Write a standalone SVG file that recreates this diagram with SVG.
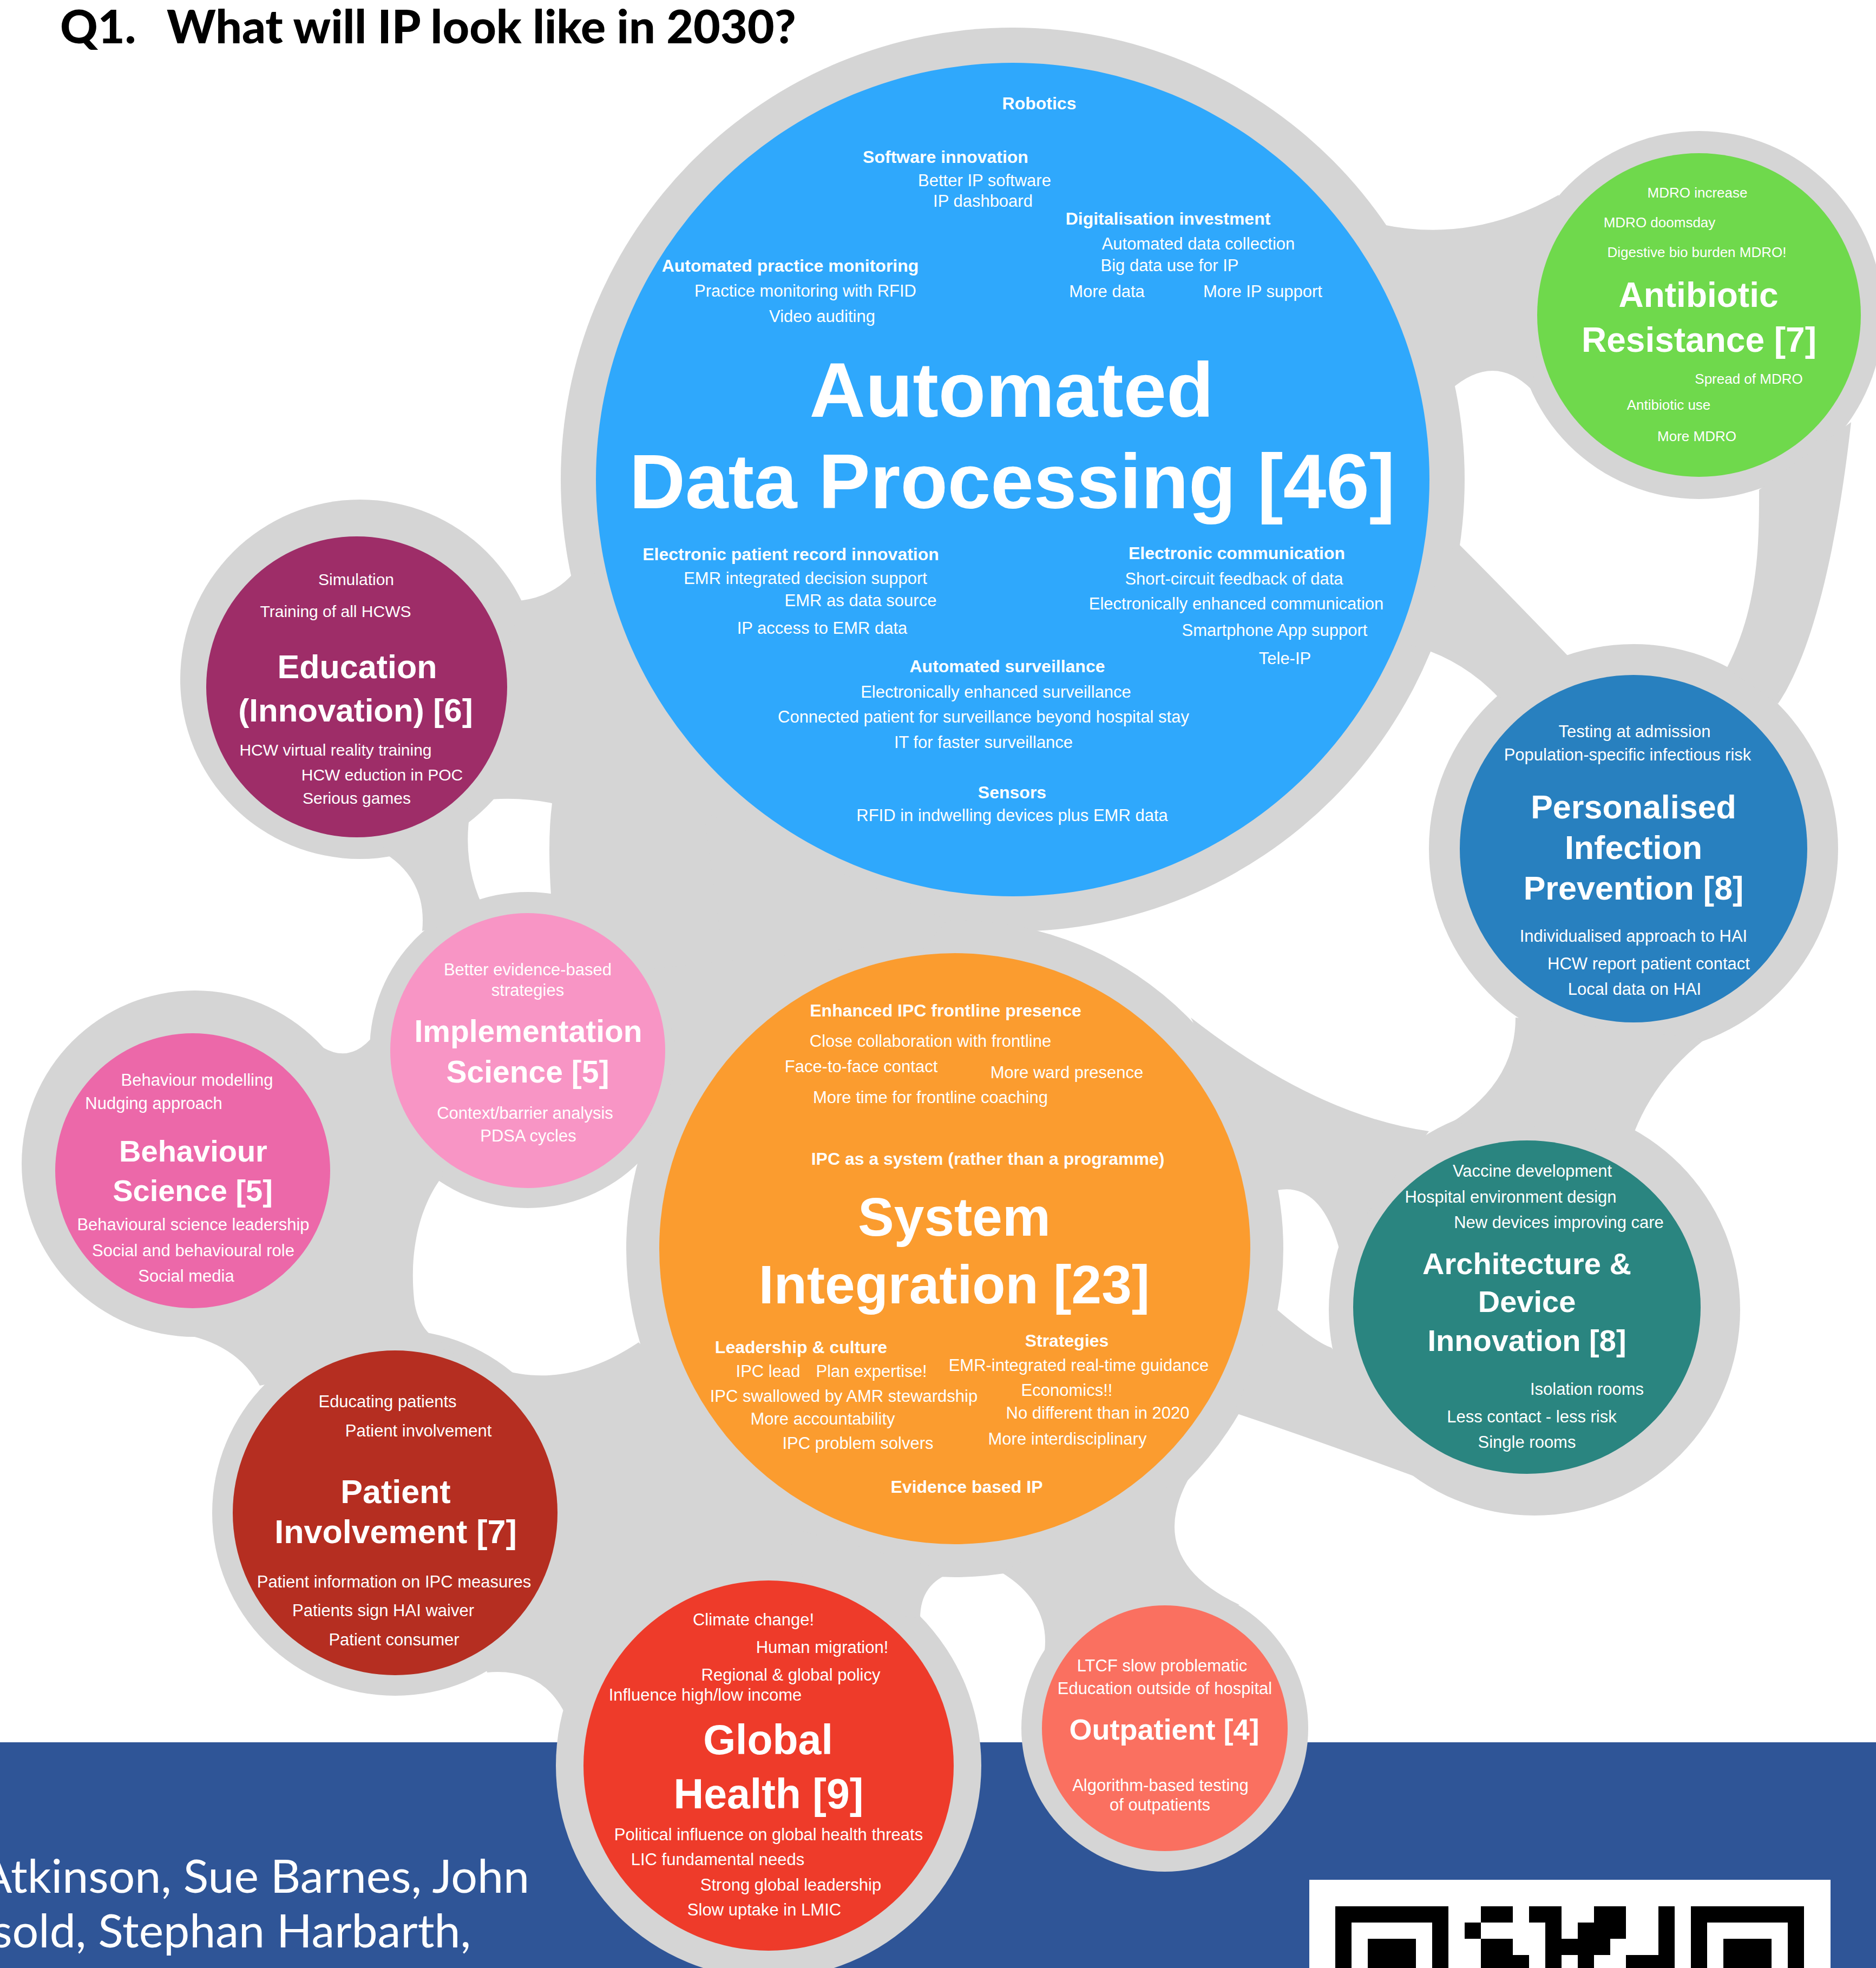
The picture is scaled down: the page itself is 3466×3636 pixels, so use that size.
<svg xmlns="http://www.w3.org/2000/svg" width="3466" height="3636" viewBox="0 0 3466 3636">
<style>
.h{fill:#D5D5D5}
text{font-family:"Liberation Sans",Arial,Helvetica,sans-serif;fill:#fff;text-anchor:middle}
.b{font-weight:700}
.f26{font-size:26px}.f30{font-size:30px}.f31{font-size:31px}.f32{font-size:32px}
.ttl{font-family:Lato,"Liberation Sans",sans-serif;font-weight:900;font-size:86px;fill:#000;text-anchor:start}
.auth{font-family:Lato,"Open Sans",sans-serif;font-size:86px;fill:#fff;text-anchor:end}
</style>
<rect x="0" y="0" width="3466" height="3636" fill="#fff"/>
<rect x="0" y="3219" width="3466" height="417" fill="#2F5597"/>
<g id="blob">
<circle class="h" cx="1871" cy="886" r="835"/>
<circle class="h" cx="3139" cy="582" r="340"/>
<circle class="h" cx="3018" cy="1568" r="378"/>
<circle class="h" cx="665" cy="1255" r="332"/>
<circle class="h" cx="975" cy="1940" r="292"/>
<circle class="h" cx="360" cy="2150" r="320"/>
<circle class="h" cx="1764" cy="2307" r="607"/>
<circle class="h" cx="2835" cy="2420" r="380"/>
<circle class="h" cx="730" cy="2795" r="338"/>
<circle class="h" cx="1420" cy="3262" r="393"/>
<circle class="h" cx="2152" cy="3193" r="265"/>
</g>
<g id="connectors">
<path class="h" d="M2555 415 Q2720 450 2880 360 L2830 720 Q2760 650 2680 720 Z"/>
<path class="h" d="M3250 905 C3250 1000 3250 1120 3190 1235 L3285 1300 C3340 1220 3390 1050 3420 780 Z"/>
<path class="h" d="M2600 1190 Q2700 1215 2770 1290 L2900 1215 Q2780 1090 2690 1000 Z"/>
<path class="h" d="M960 1110 Q1040 1100 1080 1030 L1500 1700 L1600 1760 L1200 1800 L1020 1680 Q1010 1560 1020 1484 Q950 1470 880 1480 Z"/>
<path class="h" d="M1300 1500 L1750 1700 L1700 1760 L1350 1870 Z"/>
<path class="h" d="M1200 1790 L1600 1750 L1400 1960 L1268 2000 L1240 1900 Z"/>
<path class="h" d="M700 1570 Q790 1620 780 1720 L900 1690 Q850 1600 870 1490 Z"/>
<path class="h" d="M560 1905 Q640 1990 700 1900 L820 2170 C780 2220 755 2300 765 2400 C770 2450 800 2480 840 2490 L480 2560 Q430 2470 300 2460 L500 2100 Z"/>
<path class="h" d="M840 2490 C950 2560 1060 2560 1180 2480 L1550 2860 L1400 2960 L1050 3180 Q1010 3080 900 3090 L800 2700 Z"/>
<path class="h" d="M1450 2820 L1760 2905 Q1700 2925 1700 2990 L1500 2960 Z"/>
<path class="h" d="M1850 2905 Q1940 2960 1930 3050 L2290 2965 Q2110 2880 2200 2725 Z"/>
<path class="h" d="M2200 1880 Q2430 2060 2640 2090 L2475 2310 Q2440 2180 2355 2200 Z"/>
<path class="h" d="M2360 2420 Q2430 2480 2460 2490 L2620 2730 Q2430 2660 2280 2610 Z"/>
<path class="h" d="M2800 1880 Q2800 2000 2680 2075 L3020 2090 Q3060 1990 3150 1920 Z"/>
</g>
<g id="n-adp">
<circle cx="1871" cy="886" r="770" fill="#2FA8FC"/>
<text class="b f32" x="1920" y="202">Robotics</text>
<text class="b f32" x="1747" y="301">Software innovation</text>
<text class="f31" x="1819" y="344">Better IP software</text>
<text class="f31" x="1816" y="382">IP dashboard</text>
<text class="b f32" x="2158" y="415">Digitalisation investment</text>
<text class="f31" x="2214" y="461">Automated data collection</text>
<text class="f31" x="2161" y="501">Big data use for IP</text>
<text class="f31" x="2045" y="549">More data</text>
<text class="f31" x="2333" y="549">More IP support</text>
<text class="b f32" x="1460" y="502">Automated practice monitoring</text>
<text class="f31" x="1488" y="548">Practice monitoring with RFID</text>
<text class="f31" x="1519" y="595">Video auditing</text>
<text class="b" x="1869" y="770" font-size="143">Automated</text>
<text class="b" x="1870" y="939" font-size="143">Data Processing [46]</text>
<text class="b f32" x="1461" y="1035">Electronic patient record innovation</text>
<text class="f31" x="1488" y="1079">EMR integrated decision support</text>
<text class="f31" x="1590" y="1120">EMR as data source</text>
<text class="f31" x="1519" y="1171">IP access to EMR data</text>
<text class="b f32" x="2285" y="1033">Electronic communication</text>
<text class="f31" x="2280" y="1080">Short-circuit feedback of data</text>
<text class="f31" x="2284" y="1126">Electronically enhanced communication</text>
<text class="f31" x="2355" y="1175">Smartphone App support</text>
<text class="f31" x="2374" y="1227">Tele-IP</text>
<text class="b f32" x="1861" y="1242">Automated surveillance</text>
<text class="f31" x="1840" y="1289">Electronically enhanced surveillance</text>
<text class="f31" x="1817" y="1335">Connected patient for surveillance beyond hospital stay</text>
<text class="f31" x="1817" y="1382">IT for faster surveillance</text>
<text class="b f32" x="1870" y="1475">Sensors</text>
<text class="f31" x="1870" y="1517">RFID in indwelling devices plus EMR data</text>
</g>
<g id="n-amr">
<circle cx="3139" cy="582" r="299" fill="#6FD94C"/>
<text class="f26" x="3136" y="365">MDRO increase</text>
<text class="f26" x="3066" y="420">MDRO doomsday</text>
<text class="f26" x="3135" y="475">Digestive bio burden MDRO!</text>
<text class="b" x="3138" y="567" font-size="64">Antibiotic</text>
<text class="b" x="3139" y="650" font-size="64">Resistance [7]</text>
<text class="f26" x="3231" y="709">Spread of MDRO</text>
<text class="f26" x="3083" y="757">Antibiotic use</text>
<text class="f26" x="3135" y="815">More MDRO</text>
</g>
<g id="n-edu">
<circle cx="659" cy="1269" r="278" fill="#9E2D68"/>
<text class="f30" x="658" y="1081">Simulation</text>
<text class="f30" x="620" y="1140">Training of all HCWS</text>
<text class="b" x="660" y="1253" font-size="61">Education</text>
<text class="b" x="657" y="1333" font-size="60">(Innovation) [6]</text>
<text class="f30" x="620" y="1396">HCW virtual reality training</text>
<text class="f30" x="706" y="1442">HCW eduction in POC</text>
<text class="f30" x="659" y="1485">Serious games</text>
</g>
<g id="n-pip">
<circle cx="3018" cy="1568" r="321" fill="#2880BF"/>
<text class="f31" x="3020" y="1362">Testing at admission</text>
<text class="f31" x="3007" y="1405">Population-specific infectious risk</text>
<text class="b" x="3018" y="1512" font-size="61">Personalised</text>
<text class="b" x="3018" y="1587" font-size="61">Infection</text>
<text class="b" x="3018" y="1662" font-size="61">Prevention [8]</text>
<text class="f31" x="3018" y="1740">Individualised approach to HAI</text>
<text class="f31" x="3046" y="1791">HCW report patient contact</text>
<text class="f31" x="3020" y="1838">Local data on HAI</text>
</g>
<g id="n-impl">
<circle cx="975" cy="1941" r="254" fill="#F895C5"/>
<text class="f31" x="975" y="1802">Better evidence-based</text>
<text class="f31" x="975" y="1840">strategies</text>
<text class="b" x="976" y="1925" font-size="57">Implementation</text>
<text class="b" x="975" y="2000" font-size="57">Science [5]</text>
<text class="f31" x="970" y="2067">Context/barrier analysis</text>
<text class="f31" x="976" y="2109">PDSA cycles</text>
</g>
<g id="n-beh">
<circle cx="356" cy="2163" r="254" fill="#EC68A9"/>
<text class="f31" x="364" y="2006">Behaviour modelling</text>
<text class="f31" x="284" y="2049">Nudging approach</text>
<text class="b" x="357" y="2146" font-size="56">Behaviour</text>
<text class="b" x="356" y="2219" font-size="56">Science [5]</text>
<text class="f31" x="357" y="2273">Behavioural science leadership</text>
<text class="f31" x="357" y="2321">Social and behavioural role</text>
<text class="f31" x="344" y="2368">Social media</text>
</g>
<g id="n-sys">
<circle cx="1764" cy="2307" r="546" fill="#FB9C2F"/>
<text class="b f32" x="1747" y="1878">Enhanced IPC frontline presence</text>
<text class="f31" x="1719" y="1934">Close collaboration with frontline</text>
<text class="f31" x="1591" y="1981">Face-to-face contact</text>
<text class="f31" x="1971" y="1992">More ward presence</text>
<text class="f31" x="1719" y="2038">More time for frontline coaching</text>
<text class="b f32" x="1825" y="2152">IPC as a system (rather than a programme)</text>
<text class="b" x="1763" y="2283" font-size="100">System</text>
<text class="b" x="1763" y="2408" font-size="100">Integration [23]</text>
<text class="b f32" x="1480" y="2500">Leadership &amp; culture</text>
<text class="b f32" x="1971" y="2488">Strategies</text>
<text class="f31" x="1419" y="2544">IPC lead</text>
<text class="f31" x="1610" y="2544">Plan expertise!</text>
<text class="f31" x="1993" y="2533">EMR-integrated real-time guidance</text>
<text class="f31" x="1559" y="2590">IPC swallowed by AMR stewardship</text>
<text class="f31" x="1971" y="2579">Economics!!</text>
<text class="f31" x="1520" y="2632">More accountability</text>
<text class="f31" x="2028" y="2621">No different than in 2020</text>
<text class="f31" x="1585" y="2677">IPC problem solvers</text>
<text class="f31" x="1972" y="2669">More interdisciplinary</text>
<text class="b f32" x="1786" y="2758">Evidence based IP</text>
</g>
<g id="n-arch">
<ellipse cx="2821" cy="2415" rx="321" ry="308" fill="#2A8580"/>
<text class="f31" x="2831" y="2174">Vaccine development</text>
<text class="f31" x="2791" y="2222">Hospital environment design</text>
<text class="f31" x="2880" y="2269">New devices improving care</text>
<text class="b" x="2821" y="2354" font-size="56">Architecture &amp;</text>
<text class="b" x="2821" y="2424" font-size="56">Device</text>
<text class="b" x="2821" y="2496" font-size="56">Innovation [8]</text>
<text class="f31" x="2932" y="2577">Isolation rooms</text>
<text class="f31" x="2830" y="2628">Less contact - less risk</text>
<text class="f31" x="2821" y="2675">Single rooms</text>
</g>
<g id="n-pat">
<circle cx="730" cy="2795" r="300" fill="#B52E21"/>
<text class="f31" x="716" y="2600">Educating patients</text>
<text class="f31" x="773" y="2654">Patient involvement</text>
<text class="b" x="731" y="2777" font-size="61">Patient</text>
<text class="b" x="731" y="2851" font-size="61">Involvement [7]</text>
<text class="f31" x="728" y="2933">Patient information on IPC measures</text>
<text class="f31" x="708" y="2986">Patients sign HAI waiver</text>
<text class="f31" x="728" y="3040">Patient consumer</text>
</g>
<g id="n-glob">
<circle cx="1420" cy="3262" r="342" fill="#EE3B2A"/>
<text class="f31" x="1392" y="3003">Climate change!</text>
<text class="f31" x="1519" y="3054">Human migration!</text>
<text class="f31" x="1461" y="3105">Regional &amp; global policy</text>
<text class="f31" x="1303" y="3142">Influence high/low income</text>
<text class="b" x="1419" y="3241" font-size="77">Global</text>
<text class="b" x="1420" y="3341" font-size="77">Health [9]</text>
<text class="f31" x="1420" y="3400">Political influence on global health threats</text>
<text class="f31" x="1326" y="3446">LIC fundamental needs</text>
<text class="f31" x="1461" y="3493">Strong global leadership</text>
<text class="f31" x="1412" y="3539">Slow uptake in LMIC</text>
</g>
<g id="n-out">
<circle cx="2152" cy="3193" r="227" fill="#FA7060"/>
<text class="f31" x="2147" y="3088">LTCF slow problematic</text>
<text class="f31" x="2152" y="3130">Education outside of hospital</text>
<text class="b" x="2151" y="3214" font-size="54">Outpatient [4]</text>
<text class="f31" x="2144" y="3309">Algorithm-based testing</text>
<text class="f31" x="2143" y="3345">of outpatients</text>
</g>
<g id="title">
<text class="ttl" x="111" y="80">Q1.</text>
<text class="ttl" x="308" y="80">What will IP look like in 2030?</text>
</g>
<g id="authors">
<text class="auth" x="978" y="3497">Atkinson, Sue Barnes, John</text>
<text class="auth" x="870" y="3598">sold, Stephan Harbarth,</text>
</g>
<g id="qr">
<rect x="2419" y="3473" width="963" height="163" fill="#fff"/>
<g transform="translate(2467 3522) scale(29.86)" fill="#000" shape-rendering="crispEdges">
<rect x="0" y="0" width="7" height="1"/><rect x="9" y="0" width="2" height="1"/><rect x="12" y="0" width="2" height="1"/><rect x="16" y="0" width="2" height="1"/><rect x="20" y="0" width="1" height="1"/><rect x="22" y="0" width="7" height="1"/>
<rect x="0" y="1" width="1" height="3"/><rect x="6" y="1" width="1" height="3"/><rect x="8" y="1" width="1" height="1"/><rect x="13" y="1" width="1" height="3"/><rect x="15" y="1" width="3" height="1"/><rect x="20" y="1" width="1" height="3"/><rect x="22" y="1" width="1" height="3"/><rect x="28" y="1" width="1" height="3"/>
<rect x="2" y="2" width="3" height="2"/><rect x="9" y="2" width="2" height="1"/><rect x="14" y="2" width="3" height="1"/><rect x="24" y="2" width="3" height="2"/>
<rect x="9" y="3" width="3" height="1"/><rect x="15" y="3" width="1" height="1"/><rect x="18" y="3" width="2" height="1"/>
</g>
</g>
</svg>
